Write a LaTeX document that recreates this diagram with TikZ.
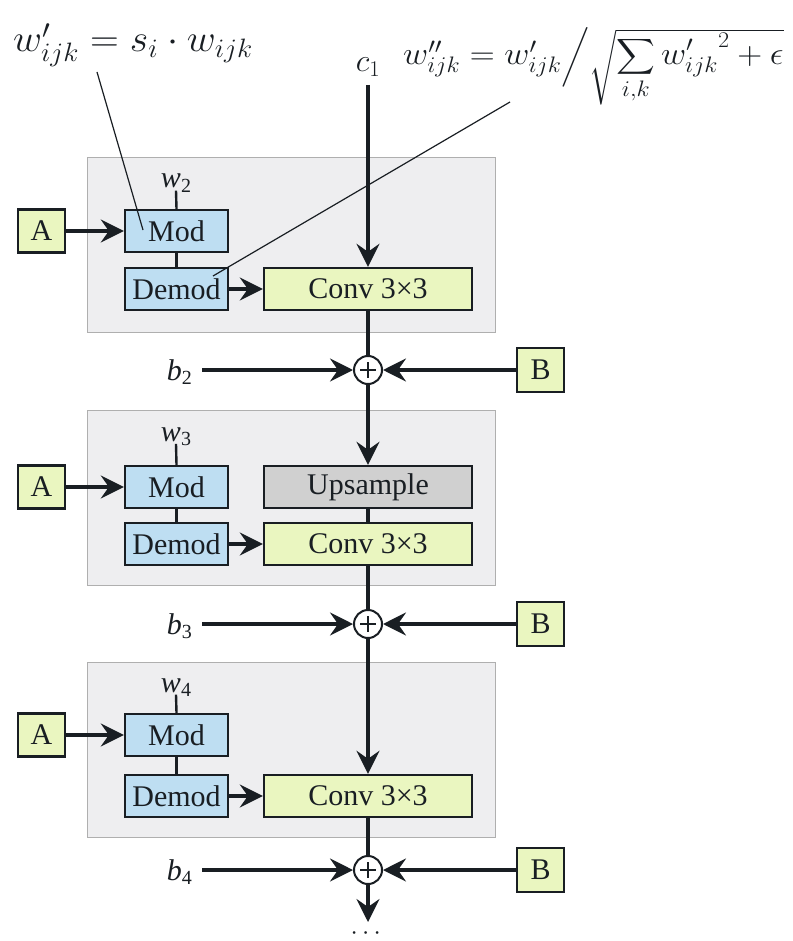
\documentclass[tikz,border=0pt]{standalone}
\usepackage{fix-cm}
\usepackage{exscale}
\usepackage{amsmath}
\usepackage{graphicx}
\usepackage{fontspec}
\setmainfont{Liberation Serif}
\usetikzlibrary{arrows.meta}
\definecolor{lime}{RGB}{234,246,192}
\definecolor{lblue}{RGB}{190,222,242}
\definecolor{ugray}{RGB}{208,208,208}
\definecolor{pfill}{RGB}{238,238,240}
\definecolor{pline}{RGB}{175,175,175}
\definecolor{ink}{RGB}{25,30,35}
\newcommand\lab[2]{\textit{#1}\raisebox{-0.32ex}{\fontsize{20}{20}\selectfont #2}}
\tikzset{
  panel/.style={draw=pline, fill=pfill, line width=1.4pt, minimum width=408pt, minimum height=175pt, anchor=north west, inner sep=0pt},
  box/.style={draw=ink, line width=2.4pt, inner sep=0pt, text=ink, font=\fontsize{30}{32}\selectfont},
  ab/.style={box, fill=lime, minimum width=47pt, minimum height=43pt},
  modbox/.style={box, fill=lblue, minimum width=103pt, minimum height=42pt},
  convbox/.style={box, fill=lime, minimum width=208pt, minimum height=42pt},
  upbox/.style={box, fill=ugray, minimum width=208pt, minimum height=42pt},
  plusnode/.style={circle, draw=ink, line width=2pt, fill=white, minimum size=28pt, inner sep=0pt,
     path picture={\draw[line width=1.2pt, ink] ([yshift=-6pt]path picture bounding box.north) -- ([yshift=6pt]path picture bounding box.south)
        ([xshift=6pt]path picture bounding box.west) -- ([xshift=-6pt]path picture bounding box.east);}},
  wire/.style={draw=ink, line width=3.2pt},
  thinwire/.style={draw=ink, line width=2.4pt},
  arr/.style={wire, -{Stealth[length=23pt, width=23pt, inset=8pt]}},
  note/.style={draw=ink, line width=1.2pt},
  lbl/.style={text=ink, font=\fontsize{30}{32}\selectfont, inner sep=0pt},
}
\begin{document}
\begin{tikzpicture}[x=1pt, y=-1pt]
\useasboundingbox[fill=white] (0,0) rectangle (792,941);

% formulas
\node[anchor=base west, inner sep=0pt, text=ink] (f1) at (13,52) {\scalebox{1.05}[1]{\fontsize{38}{42}\selectfont $w'_{ijk} = s_i \cdot w_{ijk}$}};
\node[anchor=base west, inner sep=0pt, text=ink] (f2) at (403,65) {\scalebox{1.08}[1]{\fontsize{32}{40}\selectfont $w''_{ijk} = w'_{ijk} \Big/ \sqrt{\displaystyle\sum\limits_{i,k} {w'_{ijk}}^{2} + \epsilon}$}};
\node[anchor=base, inner sep=0pt, text=ink] (c1) at (368,72) {\fontsize{32}{34}\selectfont $c_1$};

% panels
\node[panel] (P1) at (87,157) {};
\node[panel] (P2) at (87,410) {};
\node[panel] (P3) at (87,662) {};

% block 1
\node[ab] (A1) at (41.5,231) {A};
\node[modbox] (M1) at (176.5,231) {Mod};
\node[modbox] (D1) at (176.5,289) {Demod};
\node[convbox] (C1) at (368,289) {Conv 3×3};
\node[lbl, anchor=base] (w1) at (176,188) {\lab{w}{2}};
\node[plusnode] (S1) at (368,370) {};
\node[ab, minimum height=44pt] (B1) at (540.5,370) {B};
\node[lbl, anchor=base east] (bl1) at (192,380) {\lab{b}{2}};
\coordinate (bs1) at (202,370);

% block 2
\node[ab] (A2) at (41.5,487) {A};
\node[modbox] (M2) at (176.5,487) {Mod};
\node[modbox] (D2) at (176.5,544) {Demod};
\node[upbox] (U2) at (368,487) {Upsample};
\node[convbox] (C2) at (368,544) {Conv 3×3};
\node[lbl, anchor=base] (w2) at (176,441) {\lab{w}{3}};
\node[plusnode] (S2) at (368,624) {};
\node[ab, minimum height=44pt] (B2) at (540.5,624) {B};
\node[lbl, anchor=base east] (bl2) at (192,634) {\lab{b}{3}};
\coordinate (bs2) at (202,624);

% block 3
\node[ab] (A3) at (41.5,735) {A};
\node[modbox] (M3) at (176.5,735) {Mod};
\node[modbox] (D3) at (176.5,796) {Demod};
\node[convbox] (C3) at (368,796) {Conv 3×3};
\node[lbl, anchor=base] (w3) at (176,692) {\lab{w}{4}};
\node[plusnode] (S3) at (368,870) {};
\node[ab, minimum height=44pt] (B3) at (540.5,870) {B};
\node[lbl, anchor=base east] (bl3) at (192,880) {\lab{b}{4}};
\coordinate (bs3) at (202,870);

\coordinate (out) at (368,922);
\node[inner sep=0pt, text=ink] (dots) at (368,934) {\fontsize{26}{26}\selectfont $\cdots$};

% annotation lines
\coordinate (n1a) at (97,72);
\coordinate (n1b) at (143,230);
\coordinate (n2a) at (510,102);
\coordinate (n2b) at (213,276);
\draw[note] (n1a) -- (n1b);
\draw[note] (n2a) -- (n2b);

% main flow
\coordinate (c1s) at (368,85);
\draw[arr] (c1s) -- (C1.north);
\draw[wire] (C1.south) -- (S1.north);
\draw[arr] (S1.south) -- (U2.north);
\draw[wire] (U2.south) -- (C2.north);
\draw[wire] (C2.south) -- (S2.north);
\draw[arr] (S2.south) -- (C3.north);
\draw[wire] (C3.south) -- (S3.north);
\draw[arr] (S3.south) -- (out);

% side connections
\foreach \i in {1,2,3}{
  \draw[arr] (A\i.east) -- (M\i.west);
  \draw[arr] (D\i.east) -- (C\i.west);
  \draw[thinwire] (M\i.south) -- (D\i.north);
  \draw[thinwire] ([yshift=2pt]w\i.south) -- (M\i.north);
  \draw[arr] (bs\i) -- (S\i.west);
  \draw[arr] (B\i.west) -- (S\i.east);
}
\end{tikzpicture}
\end{document}
